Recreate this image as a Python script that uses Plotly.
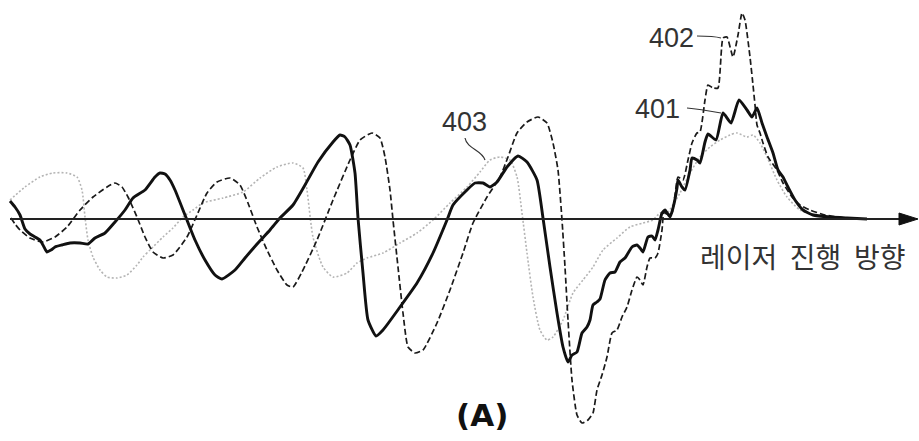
import plotly.graph_objects as go

# Waveforms along the laser propagation direction (arbitrary units, 0 = baseline)
x_401 = [10, 15, 20, 25, 30, 35, 40, 44, 47, 51, 55, 62, 70, 80, 88, 95, 105, 115, 125, 133,
         145, 155, 160, 165, 170, 175, 185, 195, 205, 215, 222, 235, 245, 258, 270, 280, 293, 305, 318, 333,
         340, 345, 350, 355, 358, 363, 368, 376, 383, 400, 417, 433, 447, 453, 467, 475, 483, 490, 497, 507,
         518, 527, 537, 543, 550, 557, 563, 568, 572, 577, 582, 587, 590, 593, 597, 600, 605, 610, 615, 620,
         625, 632, 637, 640, 643, 648, 652, 655, 658, 662, 665, 670, 673, 677, 678, 682, 685, 690, 692, 697,
         700, 705, 708, 716, 723, 731, 739, 747, 752, 757, 762, 767, 773, 778, 783, 788, 795, 803, 813, 830,
         847, 867]
y_401 = [18, 12, 4, -10, -15, -18, -21, -28, -33, -31, -28, -26, -24, -24, -25, -19, -14, -3, 9, 21,
         29, 42, 46, 45, 39, 29, 4, -21, -41, -56, -60, -51, -39, -24, -11, 1, 14, 34, 57, 77,
         84, 82, 74, 46, 1, -54, -101, -117, -111, -88, -64, -34, -1, 14, 29, 36, 36, 32, 37, 52,
         63, 57, 39, 1, -48, -94, -128, -143, -136, -133, -114, -108, -101, -86, -83, -80, -61, -54, -53, -43,
         -39, -28, -26, -29, -33, -18, -17, -21, -11, 6, 9, 2, 11, 31, 39, 32, 29, 49, 61, 59,
         56, 77, 85, 79, 106, 96, 119, 109, 102, 111, 96, 82, 66, 49, 42, 32, 19, 9, 4, 2,
         1, 0]

x_402 = [11, 15, 20, 30, 43, 55, 67, 80, 93, 107, 115, 122, 128, 137, 145, 153, 163, 173, 187, 197,
         207, 217, 230, 240, 248, 257, 267, 277, 287, 293, 302, 317, 333, 350, 360, 372, 380, 385, 390, 393,
         398, 403, 408, 415, 423, 437, 450, 463, 473, 487, 500, 508, 517, 527, 538, 547, 553, 558, 562, 565,
         568, 572, 577, 582, 588, 593, 597, 602, 607, 612, 617, 622, 627, 632, 637, 640, 643, 647, 650, 655,
         658, 662, 664, 668, 672, 675, 678, 683, 688, 692, 697, 700, 705, 708, 713, 718, 723, 727, 733, 738,
         742, 745, 750, 753, 755, 757, 760, 763, 768, 777, 783, 792, 800, 810, 825, 845, 865]
y_402 = [1, -5, -11, -19, -23, -18, -8, 9, 22, 32, 36, 32, 22, 2, -18, -33, -39, -36, -18, 4,
         26, 37, 41, 34, 16, -8, -31, -51, -66, -68, -53, -21, 19, 59, 79, 86, 81, 62, 29, -1,
         -48, -94, -128, -134, -131, -104, -71, -34, -4, 22, 42, 62, 86, 97, 102, 96, 76, 49, -1, -48,
         -101, -161, -196, -204, -201, -194, -171, -156, -138, -114, -111, -98, -88, -71, -58, -61, -66, -48, -39, -39,
         -34, -11, 7, 4, 6, 24, 42, 39, 59, 76, 86, 87, 119, 134, 131, 131, 181, 182, 162, 184,
         206, 199, 162, 134, 114, 94, 86, 76, 62, 49, 36, 22, 14, 9, 4, 1, 0]

x_403 = [10, 25, 40, 53, 67, 77, 82, 85, 88, 93, 100, 107, 117, 127, 137, 143, 150, 163, 173, 183,
         193, 203, 223, 243, 260, 277, 293, 303, 307, 313, 323, 333, 347, 357, 367, 383, 400, 417, 433, 450,
         467, 480, 490, 500, 510, 517, 522, 527, 533, 540, 547, 553, 563, 573, 583, 593, 603, 617, 630, 643,
         653, 660, 667, 680, 690, 700, 710, 720, 730, 737, 747, 753, 760, 767, 777, 787, 800, 815, 835, 860]
y_403 = [19, 32, 42, 46, 46, 42, 29, 2, -21, -38, -51, -58, -59, -56, -46, -38, -31, -18, -9, 2,
         9, 16, 21, 27, 41, 52, 56, 51, 29, -18, -48, -58, -54, -44, -39, -34, -24, -14, -1, 16,
         32, 47, 59, 62, 59, 42, 6, -34, -78, -111, -121, -118, -101, -74, -61, -48, -31, -19, -8, -4,
         -1, 6, 6, 26, 46, 62, 72, 79, 84, 86, 82, 84, 76, 62, 39, 22, 9, 4, 1, 0]

X_RANGE = [0, 919]
Y_RANGE = [-222, 219]

fig = go.Figure()

# 403: light grey dotted
fig.add_trace(go.Scatter(x=x_403, y=y_403, mode="lines",
                         line=dict(color="#b4b4b4", width=1.6, dash="2px,2px", shape="spline", smoothing=0.6)))
# 402: thin black dashed
fig.add_trace(go.Scatter(x=x_402, y=y_402, mode="lines",
                         line=dict(color="#1a1a1a", width=1.7, dash="6px,3px", shape="spline", smoothing=0.5)))
# 401: thick black solid
fig.add_trace(go.Scatter(x=x_401, y=y_401, mode="lines",
                         line=dict(color="#111111", width=2.9, shape="spline", smoothing=0.5)))

shapes = [
    # propagation axis with arrow head
    dict(type="line", x0=10, x1=903, y0=0, y1=0, xref="x", yref="y",
         line=dict(color="#222222", width=2)),
    dict(type="path", path="M 899,6 L 918,0 L 899,-6 Z", xref="x", yref="y",
         fillcolor="#111111", line=dict(color="#111111", width=1)),
    # reference leader lines
    dict(type="path", path="M 465,81 C 467,70 482,69 485,59", xref="x", yref="y",
         line=dict(color="#333333", width=1.2)),
    dict(type="path", path="M 697,183 C 707,183 714,183 721,181", xref="x", yref="y",
         line=dict(color="#333333", width=1.2)),
    dict(type="path", path="M 687,111 C 699,110 710,108 721,106", xref="x", yref="y",
         line=dict(color="#333333", width=1.2)),
]

label_font = dict(family="Liberation Sans, Arial, sans-serif", size=27, color="#333333")
annotations = [
    dict(x=464, y=97, text="403", showarrow=False, font=label_font, xref="x", yref="y"),
    dict(x=671, y=181, text="402", showarrow=False, font=label_font, xref="x", yref="y"),
    dict(x=657, y=110, text="401", showarrow=False, font=label_font, xref="x", yref="y"),
    dict(x=802, y=-37, text="레이저  진행  방향", showarrow=False, xref="x", yref="y",
         font=dict(family="Noto Sans CJK KR", size=28, color="#333333")),
    dict(x=482, y=-196, text="<b>(A)</b>", showarrow=False, xref="x", yref="y",
         font=dict(family="DejaVu Sans", size=31, color="#111111")),
]

fig.update_layout(
    width=919, height=441,
    margin=dict(l=0, r=0, t=0, b=0),
    paper_bgcolor="white", plot_bgcolor="white",
    showlegend=False,
    shapes=shapes,
    annotations=annotations,
    xaxis=dict(range=X_RANGE, visible=False, fixedrange=True),
    yaxis=dict(range=Y_RANGE, visible=False, fixedrange=True),
)

fig.write_html("out.html")
